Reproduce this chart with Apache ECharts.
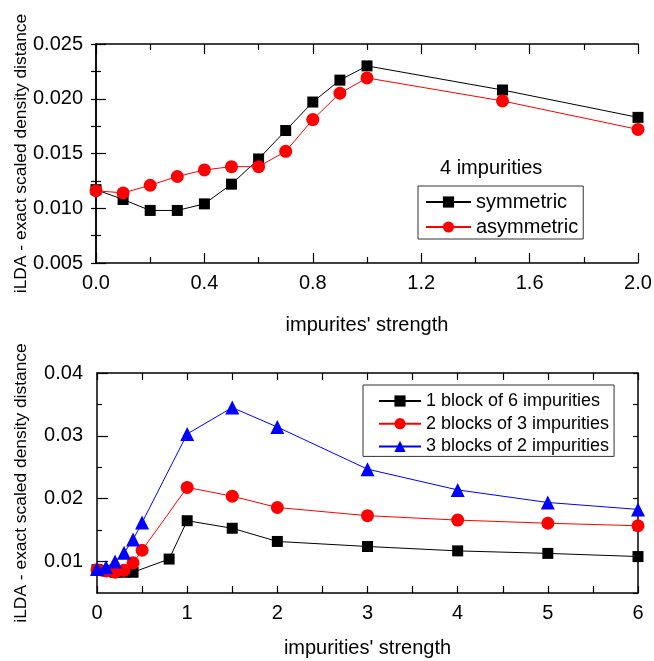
<!DOCTYPE html>
<html>
<head>
<meta charset="utf-8">
<script src="https://cdn.jsdelivr.net/npm/echarts@6/dist/echarts.min.js"></script>
<style>html,body{margin:0;padding:0;background:#fff;}#c{width:654px;height:661px;}</style>
</head>
<body>
<div id="c"></div>
<script>
// ---- Top panel data (4 impurities) ----
var topX = [0, 0.1, 0.2, 0.3, 0.4, 0.5, 0.6, 0.7, 0.8, 0.9, 1.0, 1.5, 2.0];
var symmetricY = [0.0117, 0.0108, 0.0098, 0.0098, 0.0104, 0.0122, 0.0145, 0.0171, 0.0197, 0.0217, 0.0230, 0.0208, 0.0183];
var asymmetricY = [0.0116, 0.0114, 0.0121, 0.0129, 0.0135, 0.0138, 0.0138, 0.0152, 0.0181, 0.0205, 0.0219, 0.0198, 0.0172];
var topNames = ['symmetric', 'asymmetric'];

// ---- Bottom panel data (6 impurities) ----
var block1X = [0, 0.1, 0.2, 0.3, 0.4, 0.8, 1, 1.5, 2, 3, 4, 5, 6];
var block1Y = [0.0087, 0.0085, 0.0083, 0.0083, 0.0083, 0.0104, 0.0165, 0.0153, 0.0132, 0.0124, 0.0117, 0.0113, 0.0108];
var block2X = [0, 0.1, 0.2, 0.3, 0.4, 0.5, 1, 1.5, 2, 3, 4, 5, 6];
var block2Y = [0.0087, 0.0085, 0.0083, 0.0086, 0.0098, 0.0118, 0.0218, 0.0204, 0.0186, 0.0173, 0.0166, 0.0161, 0.0157];
var block3X = [0, 0.1, 0.2, 0.3, 0.4, 0.5, 1, 1.5, 2, 3, 4, 5, 6];
var block3Y = [0.0088, 0.0091, 0.0100, 0.0114, 0.0135, 0.0162, 0.0303, 0.0345, 0.0314, 0.0247, 0.0214, 0.0194, 0.0183];
var bottomNames = ['1 block of 6 impurities', '2 blocks of 3 impurities', '3 blocks of 2 impurities'];

var topTitle = '4 impurities';
var yTitle = 'iLDA - exact scaled density distance';
var topXTitle = "impurites' strength";
var bottomXTitle = "impurities' strength";
var bottomYLabels = [0.01, 0.02, 0.03, 0.04];
var bottomYMinor = [0.015, 0.025, 0.035];

function pairs(xs, ys) { return xs.map(function (x, i) { return [x, ys[i]]; }); }

var FONT = 'Liberation Sans, Arial, sans-serif';
var axisLine = { show: true, lineStyle: { color: '#000', width: 1.5 } };
var tickLine = { color: '#000', width: 1.2 };

function xAx(gi, max, interval, decimals, name, nameGap, pos, showLabel, majorLen, minorLen) {
  return {
    type: 'value', gridIndex: gi, min: 0, max: max, interval: interval, position: pos,
    name: showLabel ? name : '', nameLocation: 'middle', nameGap: nameGap, nameMoveOverlap: false,
    nameTextStyle: { fontFamily: FONT, fontSize: 20, color: '#000' },
    axisLine: axisLine,
    axisTick: { show: true, inside: true, length: majorLen, lineStyle: tickLine },
    minorTick: { show: true, splitNumber: 2, length: minorLen, lineStyle: tickLine },
    axisLabel: { show: showLabel, margin: 10, fontFamily: FONT, fontSize: 20, color: '#000',
      formatter: function (v) { return v.toFixed(decimals); } },
    splitLine: { show: false }, minorSplitLine: { show: false }
  };
}

var chart = echarts.init(document.getElementById('c'), null, { renderer: 'canvas' });
var option = {
  backgroundColor: '#fff',
  animation: false,
  title: [{ text: topTitle, left: 440, top: 158, padding: 0,
    textStyle: { fontFamily: FONT, fontSize: 20, fontWeight: 'normal', color: '#000' } }],
  grid: [
    { left: 96, right: 16, top: 44, height: 219, containLabel: false, outerBoundsMode: 'none' },
    { left: 97, right: 16, top: 373, height: 220, containLabel: false, outerBoundsMode: 'none' }
  ],
  legend: [
    { data: topNames, orient: 'vertical', left: 418, top: 186, itemWidth: 45, itemHeight: 14, itemGap: 5,
      padding: [6, 5, 2, 7], borderColor: '#333', borderWidth: 1, borderRadius: 0,
      textStyle: { fontFamily: FONT, fontSize: 20, color: '#000' } },
    { data: bottomNames, orient: 'vertical', left: 363, top: 385, itemWidth: 42, itemHeight: 14, itemGap: 4.7,
      padding: [7, 5, 1, 15], borderColor: '#333', borderWidth: 1, borderRadius: 0,
      textStyle: { fontFamily: FONT, fontSize: 18, color: '#000' } }
  ],
  xAxis: [
    xAx(0, 2, 0.4, 1, topXTitle, 52, 'bottom', true, 10, 6),
    xAx(0, 2, 0.4, 1, '', 52, 'top', false, 10, 6),
    xAx(1, 6, 1, 0, bottomXTitle, 45, 'bottom', true, 7, 7),
    xAx(1, 6, 1, 0, '', 45, 'top', false, 7, 7)
  ],
  yAxis: [
    { type: 'value', gridIndex: 0, min: 0.005, max: 0.025, interval: 0.005, position: 'left',
      name: yTitle, nameLocation: 'middle', nameGap: 66, nameMoveOverlap: false,
      nameTextStyle: { fontFamily: FONT, fontSize: 17.4, color: '#000' },
      axisLine: axisLine,
      axisTick: { inside: true, length: 10, lineStyle: tickLine },
      minorTick: { show: true, splitNumber: 2, length: 5, lineStyle: tickLine },
      axisLabel: { margin: 13, fontFamily: FONT, fontSize: 20, color: '#000', formatter: function (v) { return v.toFixed(3); } },
      splitLine: { show: false }, minorSplitLine: { show: false } },
    { type: 'value', gridIndex: 0, min: 0.005, max: 0.025, interval: 0.005, position: 'right',
      axisLine: axisLine,
      axisTick: { inside: true, length: 5, lineStyle: tickLine },
      minorTick: { show: true, splitNumber: 2, length: 5, lineStyle: tickLine },
      axisLabel: { show: false }, splitLine: { show: false }, minorSplitLine: { show: false } },
    { type: 'value', gridIndex: 1, min: 0.005, max: 0.04, interval: 0.005, position: 'left',
      name: yTitle, nameLocation: 'middle', nameGap: 67, nameMoveOverlap: false,
      nameTextStyle: { fontFamily: FONT, fontSize: 17.4, color: '#000' },
      axisLine: axisLine,
      axisTick: { inside: true, length: 11, customValues: bottomYLabels, lineStyle: tickLine },
      axisLabel: { margin: 14, fontFamily: FONT, fontSize: 20, color: '#000', customValues: bottomYLabels,
        formatter: function (v) { var k = v * 100; return Math.abs(Math.round(k) - k) < 1e-6 ? v.toFixed(2) : ''; } },
      splitLine: { show: false } },
    { type: 'value', gridIndex: 1, min: 0.005, max: 0.04, interval: 0.005, position: 'left',
      axisLine: { show: false },
      axisTick: { inside: true, length: 5, customValues: bottomYMinor, lineStyle: tickLine },
      axisLabel: { show: false }, splitLine: { show: false } },
    { type: 'value', gridIndex: 1, min: 0.005, max: 0.04, interval: 0.005, position: 'right',
      axisLine: axisLine,
      axisTick: { inside: true, length: 5, lineStyle: tickLine },
      axisLabel: { show: false }, splitLine: { show: false } }
  ],
  series: [
    { name: topNames[0], type: 'line', xAxisIndex: 0, yAxisIndex: 0, data: pairs(topX, symmetricY),
      symbol: 'rect', symbolSize: 11, lineStyle: { color: '#000', width: 1 }, itemStyle: { color: '#000' }, z: 3 },
    { name: topNames[1], type: 'line', xAxisIndex: 0, yAxisIndex: 0, data: pairs(topX, asymmetricY),
      symbol: 'circle', symbolSize: 13, lineStyle: { color: '#ff0000', width: 1 }, itemStyle: { color: '#ff0000' }, z: 4 },
    { name: bottomNames[0], type: 'line', xAxisIndex: 2, yAxisIndex: 2, data: pairs(block1X, block1Y),
      symbol: 'rect', symbolSize: 11, lineStyle: { color: '#000', width: 1 }, itemStyle: { color: '#000' }, z: 3 },
    { name: bottomNames[1], type: 'line', xAxisIndex: 2, yAxisIndex: 2, data: pairs(block2X, block2Y),
      symbol: 'circle', symbolSize: 13, lineStyle: { color: '#ff0000', width: 1 }, itemStyle: { color: '#ff0000' }, z: 4 },
    { name: bottomNames[2], type: 'line', xAxisIndex: 2, yAxisIndex: 2, data: pairs(block3X, block3Y),
      symbol: 'triangle', symbolSize: 14, lineStyle: { color: '#0000ff', width: 1 }, itemStyle: { color: '#0000ff' }, z: 5 }
  ]
};
chart.setOption(option);
</script>
</body>
</html>
